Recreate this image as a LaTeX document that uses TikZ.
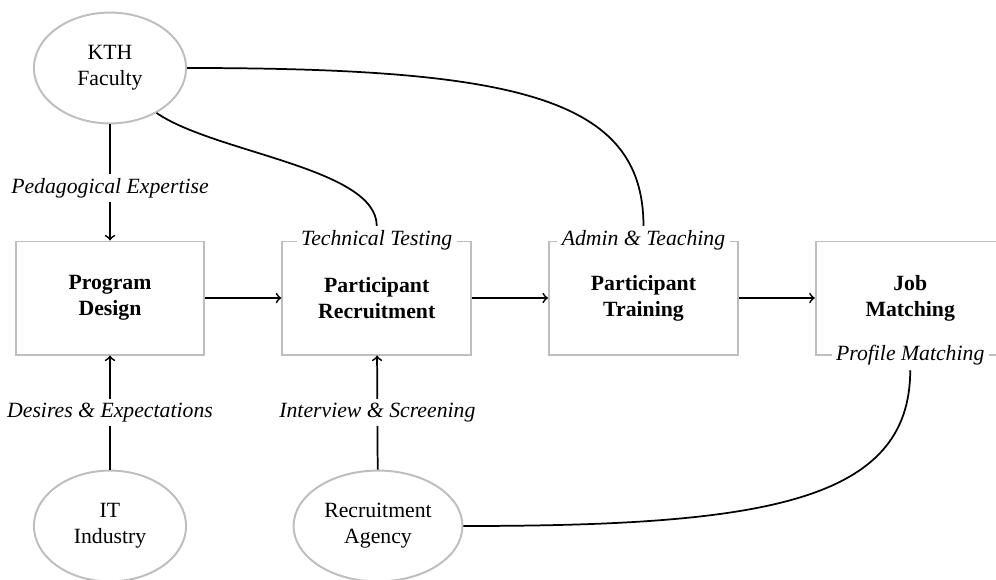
\documentclass[tikz,border=0pt]{standalone}
\usepackage{fontspec}
\setmainfont{Liberation Serif}
\usetikzlibrary{shapes.geometric,positioning}
\definecolor{boxgrey}{HTML}{BEBEBE}

\begin{document}
\begin{tikzpicture}[x=0.46pt,y=0.46pt,node distance=34.9pt,
    stage/.style={draw=boxgrey,line width=0.9pt,minimum width=86.9pt,minimum height=52pt,align=center,font=\bfseries},
    actor/.style={ellipse,draw=boxgrey,line width=0.9pt,minimum width=70pt,minimum height=51pt,align=center,inner sep=0pt},
    tag/.style={fill=white,inner sep=2pt,font=\itshape},
    flow/.style={->,line width=0.8pt},
    link/.style={line width=0.8pt}]
    \useasboundingbox (0,0) rectangle (996,579);
    \clip (0,0) rectangle (996,579);
    % stages of the program
    \node[stage] (design) at (110,281) {Program\\Design};
    \node[stage,right=of design] (recruit) {Participant\\Recruitment};
    \node[stage,right=of recruit] (training) {Participant\\Training};
    \node[stage,right=of training] (jobs) {Job\\Matching};
    % partners
    \node[actor] (kth) at (110,511) {KTH\\Faculty};
    \node[actor] (industry) at (110,53) {IT\\Industry};
    \node[actor,minimum width=77.7pt] (agency) at (378,53) {Recruitment\\Agency};
    % tags on the stage borders
    \node[tag] (testing) at (recruit.north) {Technical Testing};
    \node[tag] (teaching) at (training.north) {Admin \& Teaching};
    \node[tag] (profile) at (jobs.south) {Profile Matching};
    \draw[flow] (kth) -- node[tag,pos=0.55] {Pedagogical Expertise} (design);
    \draw[flow] (industry) -- node[tag] {Desires \& Expectations} (design);
    \draw[flow] (agency) -- node[tag] {Interview \& Screening} (recruit);
    \draw[flow] (design) -- (recruit);
    \draw[flow] (recruit) -- (training);
    \draw[flow] (training) -- (jobs);
    \draw[link] (kth.-44) .. controls +(58,-40) and +(0,58) .. (testing.north);
    \draw[link] (kth.east) .. controls +(330,0) and +(0,128) .. (teaching.north);
    \draw[link] (agency.east) .. controls +(300,0) and +(0,-132) .. (profile.south);
  \end{tikzpicture}
\end{document}
